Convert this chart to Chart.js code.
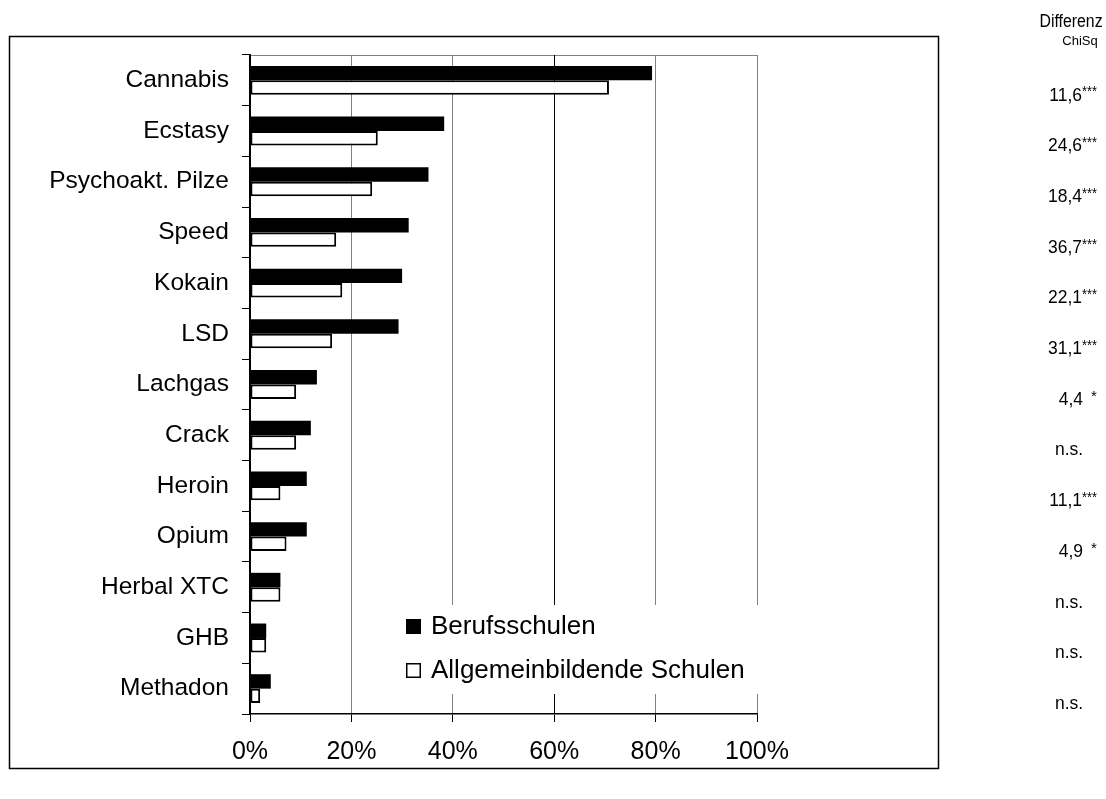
<!DOCTYPE html>
<html>
<head>
<meta charset="utf-8">
<script src="https://cdn.jsdelivr.net/npm/chart.js@4.4.1/dist/chart.umd.min.js"></script>
<style>
  html, body { margin: 0; padding: 0; background: #fff; }
  canvas { position: absolute; left: 0; top: 0; }
</style>
</head>
<body>
<canvas id="chart" width="1106" height="799"></canvas>
<script>
// --- Data ---
const substances = ['Cannabis', 'Ecstasy', 'Psychoakt. Pilze', 'Speed', 'Kokain', 'LSD', 'Lachgas',
                    'Crack', 'Heroin', 'Opium', 'Herbal XTC', 'GHB', 'Methadon'];
const berufsschulen = [79.3, 38.3, 35.2, 31.3, 30.0, 29.3, 13.2, 12.0, 11.2, 11.2, 6.0, 3.2, 4.1];
const allgemeinbildend = [70.8, 25.2, 24.1, 17.0, 18.2, 16.2, 9.1, 9.1, 6.0, 7.2, 6.0, 3.2, 2.0];
const chiSq = ['11,6', '24,6', '18,4', '36,7', '22,1', '31,1', '4,4', 'n.s.', '11,1', '4,9', 'n.s.', 'n.s.', 'n.s.'];
const chiStars = ['***', '***', '***', '***', '***', '***', '*', '', '***', '*', '', '', ''];
const seriesNames = ['Berufsschulen', 'Allgemeinbildende Schulen'];

const FONT = '"Liberation Sans", Arial, sans-serif';

// slightly narrowed text for the right column
function squeezed(ctx, txt, x, y, size, align, sx) {
    ctx.save();
    ctx.translate(x, y);
    ctx.scale(sx, 1);
    ctx.font = size + 'px ' + FONT;
    ctx.textAlign = align;
    ctx.textBaseline = 'middle';
    ctx.fillText(txt, 0, 0);
    ctx.restore();
}

// frame, legend box and the ChiSq column
const decor = {
    id: 'decor',
    beforeDraw(chart) {
        const ctx = chart.ctx;
        const a = chart.chartArea;
        ctx.save();
        ctx.fillStyle = '#fff';
        ctx.fillRect(0, 0, chart.width, chart.height);
        ctx.strokeStyle = '#000';
        ctx.lineWidth = 1.5;
        ctx.strokeRect(9.5, 36.5, 929, 732);
        ctx.strokeStyle = '#808080';
        ctx.lineWidth = 1;
        ctx.beginPath();
        ctx.moveTo(a.left, a.top + 0.5);
        ctx.lineTo(a.right, a.top + 0.5);
        ctx.stroke();
        ctx.restore();
    },
    afterDraw(chart) {
        const ctx = chart.ctx;
        const y = chart.scales.y;
        ctx.save();

        // legend
        ctx.fillStyle = '#fff';
        ctx.fillRect(392, 605, 370, 89);
        ctx.fillStyle = '#000';
        ctx.fillRect(406, 619, 15, 15);
        ctx.strokeStyle = '#000';
        ctx.lineWidth = 1.5;
        ctx.strokeRect(406.75, 663.75, 13.5, 13.5);
        ctx.font = '26px ' + FONT;
        ctx.textBaseline = 'middle';
        ctx.textAlign = 'left';
        ctx.fillText(seriesNames[0], 431, 627);
        ctx.fillText(seriesNames[1], 431, 671);

        // ChiSq column
        squeezed(ctx, 'Differenz', 1071, 22, 18, 'center', 0.88);
        squeezed(ctx, 'ChiSq', 1080, 41, 13, 'center', 1);

        chiSq.forEach((txt, i) => {
            const cy = y.getPixelForValue(i) + 15;
            if (chiStars[i] === '') {
                squeezed(ctx, txt, 1069, cy, 19, 'center', 0.92);
            } else if (chiStars[i] === '*') {
                squeezed(ctx, txt, 1083, cy, 19, 'right', 0.92);
                squeezed(ctx, chiStars[i], 1091, cy - 3, 15, 'left', 1);
            } else {
                squeezed(ctx, txt, 1082, cy, 19, 'right', 0.92);
                squeezed(ctx, chiStars[i], 1082, cy - 3, 15, 'left', 0.85);
            }
        });
        ctx.restore();
    }
};

new Chart(document.getElementById('chart'), {
    type: 'bar',
    data: {
        labels: substances,
        datasets: [
            {
                label: seriesNames[0],
                data: berufsschulen,
                backgroundColor: '#000',
                borderColor: '#000',
                borderWidth: 0
            },
            {
                label: seriesNames[1],
                data: allgemeinbildend,
                backgroundColor: '#fff',
                borderColor: '#000',
                borderWidth: 2,
                borderSkipped: false
            }
        ]
    },
    options: {
        indexAxis: 'y',
        responsive: false,
        animation: false,
        devicePixelRatio: 1,
        datasets: { bar: { categoryPercentage: 0.57, barPercentage: 1 } },
        layout: { padding: { left: 0, top: 55, right: 349, bottom: 0 } },
        plugins: { legend: { display: false }, tooltip: { enabled: false } },
        scales: {
            x: {
                min: 0, max: 100,
                afterFit: s => { s.height = 85; },
                ticks: {
                    stepSize: 20,
                    callback: v => v + '%',
                    color: '#000',
                    font: { family: FONT, size: 25 },
                    padding: 15
                },
                grid: {
                    color: c => (c.tick && c.tick.value === 60) ? '#000' : '#808080',
                    tickColor: '#000',
                    tickLength: 8
                },
                border: { color: '#000', width: 1.5 }
            },
            y: {
                afterFit: s => { s.width = 250; },
                ticks: {
                    color: '#000',
                    font: { family: FONT, size: 24.5 },
                    padding: 13
                },
                grid: {
                    drawOnChartArea: false,
                    tickColor: '#000',
                    tickLength: 8
                },
                border: { color: '#000', width: 2 }
            }
        }
    },
    plugins: [decor]
});
</script>
</body>
</html>
